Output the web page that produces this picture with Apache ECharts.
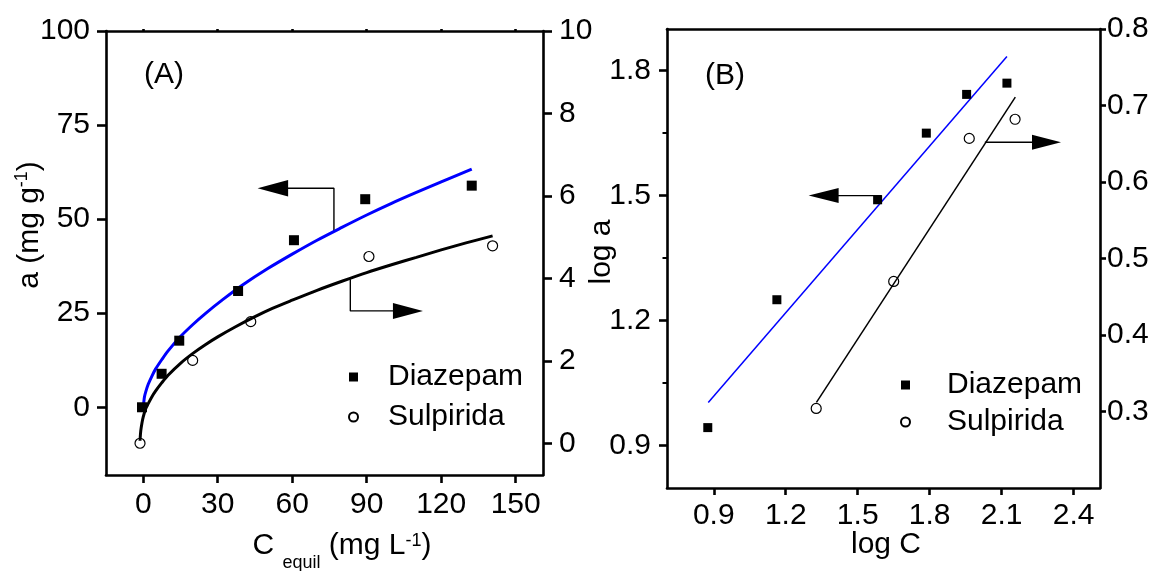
<!DOCTYPE html>
<html>
<head>
<meta charset="utf-8">
<script src="https://cdn.jsdelivr.net/npm/echarts@6/dist/echarts.min.js"></script>
<style>
html,body{margin:0;padding:0;background:#fff;}
#c{width:1160px;height:571px;}
</style>
</head>
<body>
<div id="c"></div>
<script>
// ---------- Panel A data ----------
const aDiazX = [-0.5, 7.4, 14.5, 38.2, 60.7, 89.4, 132.3];
const aDiazY = [0, 8.9, 17.7, 30.9, 44.4, 55.3, 58.9];
const aSulpX = [-1.3, 19.9, 43.3, 90.9, 140.7];
const aSulpY = [0, 2.01, 2.95, 4.53, 4.79];
const aDiazFitX = [0, 0.5, 1, 2, 3.5, 5, 7.5, 10, 15, 20, 25, 32, 40, 50, 60, 70, 80, 90, 100, 110, 120, 132.3];
const aDiazFitY = [0, 2.8, 4.1, 6.1, 8.3, 10.2, 12.7, 15.0, 18.8, 22.0, 24.9, 28.6, 32.5, 36.8, 40.7, 44.4, 47.8, 51.1, 54.2, 57.1, 59.9, 63.3];
const aSulpFitX = [-1.3, -1.0, -0.5, 0, 1, 2, 3.5, 5, 7.5, 10, 15, 20, 25, 30, 37, 45, 52, 60, 70, 80, 90, 100, 110, 120, 130, 140.7];
const aSulpFitY = [0.06, 0.3, 0.5, 0.64, 0.84, 0.96, 1.13, 1.27, 1.47, 1.65, 1.94, 2.18, 2.39, 2.58, 2.82, 3.07, 3.27, 3.47, 3.71, 3.93, 4.14, 4.33, 4.51, 4.69, 4.86, 5.03];
const aArrowLeftX = [76.8, 76.8, 52.2];
const aArrowLeftY = [46.8, 58.2, 58.2];
const aArrowRightX = [83.4, 83.4, 106.6];
const aArrowRightY = [3.98, 3.21, 3.21];
const aXTicks = [0, 30, 60, 90, 120, 150];
const aYLeftTicks = [0, 25, 50, 75, 100];
const aYRightTicks = [0, 2, 4, 6, 8, 10];

// ---------- Panel B data ----------
const bDiazX = [0.875, 1.163, 1.583, 1.786, 1.954, 2.122];
const bDiazY = [0.943, 1.250, 1.490, 1.650, 1.743, 1.770];
const bSulpX = [1.327, 1.650, 1.965, 2.156];
const bSulpY = [0.304, 0.470, 0.657, 0.682];
const bDiazFitX = [0.877, 2.122];
const bDiazFitY = [1.003, 1.834];
const bSulpFitX = [1.328, 2.157];
const bSulpFitY = [0.312, 0.711];
const bArrowLeftX = [1.6, 1.358];
const bArrowLeftY = [1.5, 1.5];
const bArrowRightX = [2.03, 2.287];
const bArrowRightY = [0.652, 0.652];
const bXTicks = [0.9, 1.2, 1.5, 1.8, 2.1, 2.4];
const bYLeftTicks = [0.9, 1.2, 1.5, 1.8];
const bYLeftMinor = [1.05, 1.35, 1.65];
const bYRightTicks = [0.3, 0.4, 0.5, 0.6, 0.7, 0.8];

const seriesNames = ['Diazepam', 'Sulpirida'];

// ---------- helpers ----------
const FONT = '"Liberation Sans", Arial, Helvetica, sans-serif';
const BLACK = '#000';
const BLUE = '#0000ff';
const zip = (xs, ys) => xs.map((x, i) => [x, ys[i]]);
const last = (xs, ys) => [[xs[xs.length - 1], ys[ys.length - 1]]];

function axis(opts) {
  const lw = 2.6;
  return {
    type: 'value',
    gridIndex: opts.grid,
    position: opts.position,
    min: opts.min, max: opts.max,
    axisLine: {show: opts.line !== false, onZero: false, lineStyle: {color: BLACK, width: lw}},
    axisTick: opts.ticks ? {show: true, inside: false, length: opts.tickLen, customValues: opts.ticks,
      lineStyle: {color: BLACK, width: opts.tickWidth || lw}} : {show: false},
    axisLabel: opts.labels ? {show: true, customValues: opts.labels, margin: opts.margin,
      color: BLACK, fontSize: 30, fontFamily: FONT} : {show: false},
    splitLine: {show: false},
    minorTick: {show: false},
    z: 5
  };
}

const chart = echarts.init(document.getElementById('c'), null, {renderer: 'canvas'});

const solid = {color: BLACK, opacity: 1};
const hollow = {color: 'rgba(255,255,255,0)', borderColor: BLACK, borderWidth: 1.2, opacity: 1};

const option = {
  backgroundColor: '#fff',
  animation: false,
  grid: [
    {left: 106, top: 31, width: 437, height: 444, outerBoundsMode: 'none', containLabel: false},
    {left: 667, top: 29, width: 433, height: 459, outerBoundsMode: 'none', containLabel: false}
  ],
  xAxis: [
    axis({grid: 0, position: 'bottom', min: -15, max: 161, ticks: aXTicks, tickLen: 8, labels: aXTicks, margin: 15}),
    axis({grid: 0, position: 'top', min: -15, max: 161, ticks: aXTicks, tickLen: 2}),
    axis({grid: 1, position: 'bottom', min: 0.705, max: 2.51, ticks: bXTicks, tickLen: 7, labels: bXTicks, margin: 13}),
    axis({grid: 1, position: 'top', min: 0.705, max: 2.51})
  ],
  yAxis: [
    axis({grid: 0, position: 'left', min: -18, max: 100, ticks: aYLeftTicks, tickLen: 9, labels: aYLeftTicks, margin: 16}),
    axis({grid: 0, position: 'right', min: -0.77, max: 10, ticks: aYRightTicks, tickLen: 9, labels: aYRightTicks, margin: 16}),
    axis({grid: 1, position: 'left', min: 0.798, max: 1.9, ticks: bYLeftTicks, tickLen: 8, labels: bYLeftTicks, margin: 16}),
    axis({grid: 1, position: 'right', min: 0.2, max: 0.8, ticks: bYRightTicks, tickLen: 6, labels: bYRightTicks, margin: 7}),
    axis({grid: 1, position: 'left', min: 0.798, max: 1.9, ticks: bYLeftMinor, tickLen: 4.5, line: false, tickWidth: 2})
  ],
  legend: [
    {
      data: seriesNames, orient: 'vertical', left: 348, top: 362, padding: 0,
      itemWidth: 9, itemHeight: 9, itemGap: 10, selectedMode: false,
      textStyle: {fontSize: 30, fontFamily: FONT, color: BLACK, lineHeight: 30, padding: [0, 0, 0, 25]}
    },
    {
      data: seriesNames, orient: 'vertical', left: 900, top: 370, padding: 0,
      itemWidth: 9, itemHeight: 9, itemGap: 7, selectedMode: false,
      textStyle: {fontSize: 30, fontFamily: FONT, color: BLACK, lineHeight: 30, padding: [0, 0, 0, 32]}
    }
  ],
  graphic: [
    {type: 'text', x: 164, y: 75, style: {text: '(A)', fontSize: 30, fontFamily: FONT, fill: BLACK,
      align: 'center', verticalAlign: 'middle', textAlign: 'center', textVerticalAlign: 'middle'}},
    {type: 'text', x: 725, y: 76, style: {text: '(B)', fontSize: 30, fontFamily: FONT, fill: BLACK,
      align: 'center', verticalAlign: 'middle', textAlign: 'center', textVerticalAlign: 'middle'}},
    {type: 'text', x: 342, y: 546, style: {
      text: '{m|C }{s|equil}{m| (mg L}{p|-1}{m|)}',
      align: 'center', verticalAlign: 'middle', textAlign: 'center', textVerticalAlign: 'middle',
      fontSize: 30, fontFamily: FONT, fill: BLACK,
      rich: {
        m: {fontSize: 30, fontFamily: FONT, fill: BLACK, lineHeight: 30},
        s: {fontSize: 18, fontFamily: FONT, fill: BLACK, lineHeight: 18, padding: [34, 0, 0, 0]},
        p: {fontSize: 18, fontFamily: FONT, fill: BLACK, lineHeight: 18, padding: [0, 0, 10, 0]}
      }}},
    {type: 'text', x: 30, y: 225, rotation: Math.PI / 2, style: {
      text: '{m|a (mg g}{p|-1}{m|)}',
      align: 'center', verticalAlign: 'middle', textAlign: 'center', textVerticalAlign: 'middle',
      fontSize: 30, fontFamily: FONT, fill: BLACK,
      rich: {
        m: {fontSize: 30, fontFamily: FONT, fill: BLACK, lineHeight: 30},
        p: {fontSize: 18, fontFamily: FONT, fill: BLACK, lineHeight: 18, padding: [0, 0, 16, 0]}
      }}},
    {type: 'text', x: 886, y: 545, style: {text: 'log C', fontSize: 30, fontFamily: FONT, fill: BLACK,
      align: 'center', verticalAlign: 'middle', textAlign: 'center', textVerticalAlign: 'middle'}},
    {type: 'text', x: 602, y: 252, rotation: Math.PI / 2, style: {text: 'log a', fontSize: 30, fontFamily: FONT, fill: BLACK,
      align: 'center', verticalAlign: 'middle', textAlign: 'center', textVerticalAlign: 'middle'}}
  ],
  series: [
    // Panel A fits
    {type: 'line', name: 'fitA1', xAxisIndex: 0, yAxisIndex: 0, data: zip(aDiazFitX, aDiazFitY),
      smooth: 0.3, showSymbol: false, symbol: 'none', silent: true,
      lineStyle: {color: BLUE, width: 3}, z: 3},
    {type: 'line', name: 'fitA2', xAxisIndex: 0, yAxisIndex: 1, data: zip(aSulpFitX, aSulpFitY),
      smooth: 0.3, showSymbol: false, symbol: 'none', silent: true,
      lineStyle: {color: BLACK, width: 3}, z: 3},
    // Panel A arrows
    {type: 'line', name: 'arrA1', xAxisIndex: 0, yAxisIndex: 0, data: zip(aArrowLeftX, aArrowLeftY),
      symbol: 'none', silent: true, lineStyle: {color: BLACK, width: 1.4}, z: 2},
    {type: 'scatter', name: 'headA1', xAxisIndex: 0, yAxisIndex: 0, data: last(aArrowLeftX, aArrowLeftY),
      symbol: 'triangle', symbolSize: [16.5, 30.5], symbolRotate: 90, silent: true, itemStyle: solid, z: 2},
    {type: 'line', name: 'arrA2', xAxisIndex: 0, yAxisIndex: 1, data: zip(aArrowRightX, aArrowRightY),
      symbol: 'none', silent: true, lineStyle: {color: BLACK, width: 1.4}, z: 2},
    {type: 'scatter', name: 'headA2', xAxisIndex: 0, yAxisIndex: 1, data: last(aArrowRightX, aArrowRightY),
      symbol: 'triangle', symbolSize: [16, 30], symbolRotate: -90, silent: true, itemStyle: solid, z: 2},
    // Panel A points
    {type: 'scatter', name: 'Diazepam', xAxisIndex: 0, yAxisIndex: 0, data: zip(aDiazX, aDiazY),
      symbol: 'rect', symbolSize: 10, itemStyle: solid, z: 4},
    {type: 'scatter', name: 'Sulpirida', xAxisIndex: 0, yAxisIndex: 1, data: zip(aSulpX, aSulpY),
      symbol: 'circle', symbolSize: 10, itemStyle: hollow, z: 4},
    // Panel B fits
    {type: 'line', name: 'fitB1', xAxisIndex: 2, yAxisIndex: 2, data: zip(bDiazFitX, bDiazFitY),
      showSymbol: false, symbol: 'none', silent: true, lineStyle: {color: BLUE, width: 1.5}, z: 3},
    {type: 'line', name: 'fitB2', xAxisIndex: 2, yAxisIndex: 3, data: zip(bSulpFitX, bSulpFitY),
      showSymbol: false, symbol: 'none', silent: true, lineStyle: {color: BLACK, width: 1.5}, z: 3},
    // Panel B arrows
    {type: 'line', name: 'arrB1', xAxisIndex: 2, yAxisIndex: 2, data: zip(bArrowLeftX, bArrowLeftY),
      symbol: 'none', silent: true, lineStyle: {color: BLACK, width: 1.4}, z: 2},
    {type: 'scatter', name: 'headB1', xAxisIndex: 2, yAxisIndex: 2, data: last(bArrowLeftX, bArrowLeftY),
      symbol: 'triangle', symbolSize: [15, 30], symbolRotate: 90, silent: true, itemStyle: solid, z: 2},
    {type: 'line', name: 'arrB2', xAxisIndex: 2, yAxisIndex: 3, data: zip(bArrowRightX, bArrowRightY),
      symbol: 'none', silent: true, lineStyle: {color: BLACK, width: 1.4}, z: 2},
    {type: 'scatter', name: 'headB2', xAxisIndex: 2, yAxisIndex: 3, data: last(bArrowRightX, bArrowRightY),
      symbol: 'triangle', symbolSize: [15, 29], symbolRotate: -90, silent: true, itemStyle: solid, z: 2},
    // Panel B points
    {type: 'scatter', name: 'Diazepam', xAxisIndex: 2, yAxisIndex: 2, data: zip(bDiazX, bDiazY),
      symbol: 'rect', symbolSize: 9, itemStyle: solid, z: 4},
    {type: 'scatter', name: 'Sulpirida', xAxisIndex: 2, yAxisIndex: 3, data: zip(bSulpX, bSulpY),
      symbol: 'circle', symbolSize: 10, itemStyle: hollow, z: 4}
  ]
};

chart.setOption(option);
</script>
</body>
</html>
